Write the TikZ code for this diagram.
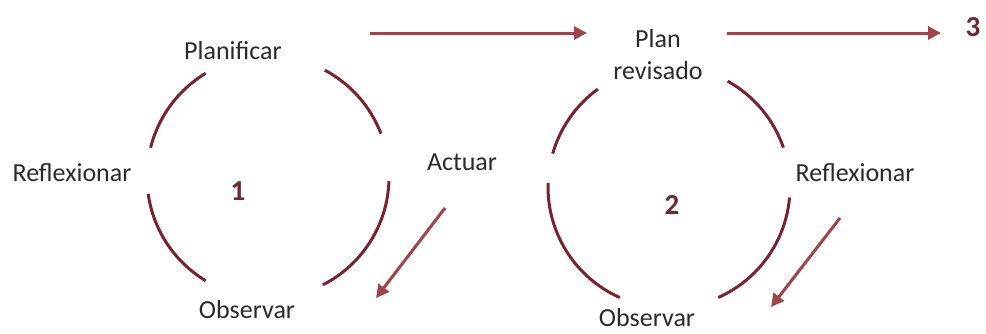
\documentclass[tikz,border=0pt]{standalone}
\usepackage{fontspec}
\setmainfont{Carlito}
\usetikzlibrary{arrows.meta}
\definecolor{arcred}{HTML}{7A2330}
\definecolor{arrred}{HTML}{A0444C}
\definecolor{txt}{HTML}{2A2A2A}
\definecolor{numred}{HTML}{6A2A30}
\begin{document}
\begin{tikzpicture}[x=1pt,y=1pt,
  lbl/.style={inner sep=0pt,anchor=base,text=txt,font=\fontsize{26}{32}\selectfont},
  num/.style={inner sep=0pt,text=numred,font=\fontsize{29}{32}\selectfont\bfseries},
  arcline/.style={draw=arcred,line width=3pt},
  flow/.style={draw=arrred,line width=3pt,-{Triangle[length=13pt,width=13pt]}}]
\useasboundingbox (0,0) rectangle (986,333);
\coordinate (c1) at (268,156);
\coordinate (c2) at (669,146);
% circle 1
\draw[arcline] ([shift={(121:121pt)}]c1) arc[start angle=121,end angle=166,radius=121pt];
\draw[arcline] ([shift={(21:121pt)}]c1) arc[start angle=21,end angle=62,radius=121pt];
\draw[arcline] ([shift={(-63:121pt)}]c1) arc[start angle=-63,end angle=-2,radius=121pt];
\draw[arcline] ([shift={(188:121pt)}]c1) arc[start angle=188,end angle=239,radius=121pt];
% circle 2
\draw[arcline] ([shift={(126:121pt)}]c2) arc[start angle=126,end angle=164,radius=121pt];
\draw[arcline] ([shift={(19:121pt)}]c2) arc[start angle=19,end angle=61,radius=121pt];
\draw[arcline] ([shift={(-66:121pt)}]c2) arc[start angle=-66,end angle=-5,radius=121pt];
\draw[arcline] ([shift={(178:121pt)}]c2) arc[start angle=178,end angle=246,radius=121pt];
% labels
\node[lbl] (plan1) at (233,273) {Planificar};
\node[lbl] (refl1) at (72,152) {Reflexionar};
\node[lbl] (act1) at (462,163) {Actuar};
\node[lbl] (obs1) at (247,15) {Observar};
\node[num] (n1) at (238,142) {1};
\node[lbl,anchor=center,align=center] (plan2) at (658,278) {Plan\\revisado};
\node[lbl] (refl2) at (855,152) {Reflexionar};
\node[lbl] (obs2) at (647,7) {Observar};
\node[num] (n2) at (672,128) {2};
\node[num] (n3) at (973,306) {3};
% arrows
\coordinate (a1s) at (370,300);
\coordinate (a1e) at (587,300);
\coordinate (a2s) at (727,300);
\coordinate (a2e) at (941,300);
\coordinate (d1s) at (445,125);
\coordinate (d1e) at (376,35);
\coordinate (d2s) at (840,115);
\coordinate (d2e) at (771,26);
\draw[flow] (a1s) -- (a1e);
\draw[flow] (a2s) -- (a2e);
\draw[flow] (d1s) -- (d1e);
\draw[flow] (d2s) -- (d2e);
\end{tikzpicture}
\end{document}
